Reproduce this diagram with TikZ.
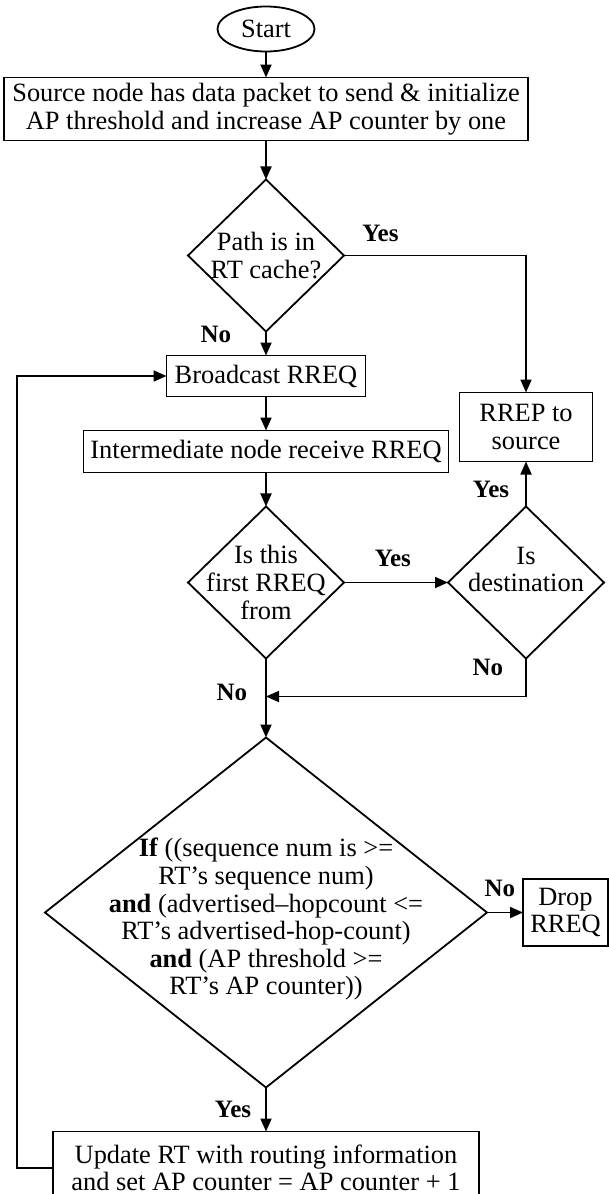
\documentclass[tikz,border=0pt]{standalone}
\usepackage{fontspec}
\setmainfont{Liberation Serif}
\usetikzlibrary{arrows.meta, positioning, shapes.geometric}
\tikzset{
    flowchart/.style={>={Triangle[length=6.5pt, width=5.5pt]}, line width=0.9pt, font=\fontsize{13.2pt}{13.8pt}\selectfont},
    startstop/.style={draw, ellipse, inner sep=0pt, outer sep=0pt, minimum width=48.5pt, minimum height=22.5pt},
    process/.style={draw, rectangle, align=center, inner sep=1pt, outer sep=0pt},
    decision/.style={draw, diamond, inner sep=0pt, outer sep=0pt, minimum width=78pt, minimum height=76pt},
    % bold Yes/No on the arrows leaving a decision
    answer/.style={font=\fontsize{12.5pt}{13pt}\selectfont\bfseries, inner sep=1pt},
}

\begin{document}
\begin{tikzpicture}[flowchart]
    \useasboundingbox (0,0) rectangle (304.5pt,-597pt);

    \node[startstop] (start) at (133pt,-14.5pt) {Start};
    \node[process, below=13pt of start, minimum width=262pt, minimum height=31.5pt] (source)
        {Source node has data packet to send \& initialize\\AP threshold and increase AP counter by one};
    \node[decision, below=19.5pt of source, label={[align=center]center:{Path is in\\RT cache?}}] (cache) {};
    \node[process, below=12pt of cache, minimum width=99.5pt, minimum height=20.5pt] (bcast) {Broadcast RREQ};
    \node[process, below=17pt of bcast, minimum width=182.5pt, minimum height=21pt] (inter) {Intermediate node receive RREQ};
    \node[decision, below=17pt of inter, label={[align=center]center:{Is this\\first RREQ\\from}}] (first) {};
    \node[decision, right=52pt of first, label={[align=center, yshift=6.5pt]center:{Is\\destination}}] (dest) {};
    \node[process, above=22.5pt of dest, minimum width=66.5pt, minimum height=34.5pt] (rrep) {RREP to\\source};
    \node[decision, below=39.5pt of first, minimum width=221pt, minimum height=175pt,
        label={[align=center, yshift=-3.5pt]center:{\textbf{If} ((sequence num is >=\\RT's sequence num)\\\textbf{and} (advertised--hopcount <=\\RT's advertised-hop-count)\\\textbf{and} (AP threshold >=\\RT's AP counter))}}] (cond) {};
    \node[process, right=18pt of cond, minimum width=42.5pt, minimum height=33.5pt] (drop) {Drop\\RREQ};
    \node[process, below=22pt of cond, minimum width=213pt, minimum height=36.5pt] (update)
        {Update RT with routing information\\and set AP counter = AP counter + 1};
    \coordinate[below=19pt of first] (join);
    \coordinate (loop) at (8.5pt,0 |- bcast.west);

    \draw[->] (start) -- (source);
    \draw[->] (source) -- (cache);
    \draw[->] (cache) -| node[answer, pos=0.1, above=5.5pt] {Yes} (rrep);
    \draw[->] (cache) -- node[answer, pos=0.12, left=16pt] {No} (bcast);
    \draw[->] (bcast) -- (inter);
    \draw[->] (inter) -- (first);
    \draw[->] (first) -- node[answer, pos=0.47, above=6.5pt] {Yes} (dest);
    \draw[->] (dest) -- node[answer, pos=0.38, left=7pt] {Yes} (rrep);
    \draw[->] (dest) |- node[answer, pos=0.12, left=10pt] {No}
        node[answer, pos=1, left=8pt, yshift=2pt] {No} (join);
    \draw[->] (first) -- (cond);
    \draw[->] (cond) -- node[answer, pos=0.36, above=6.5pt] {No} (drop);
    \draw[->] (cond) -- node[answer, left=6pt] {Yes} (update);
    \draw[->] (update) -| (loop) |- (bcast);
\end{tikzpicture}
\end{document}
